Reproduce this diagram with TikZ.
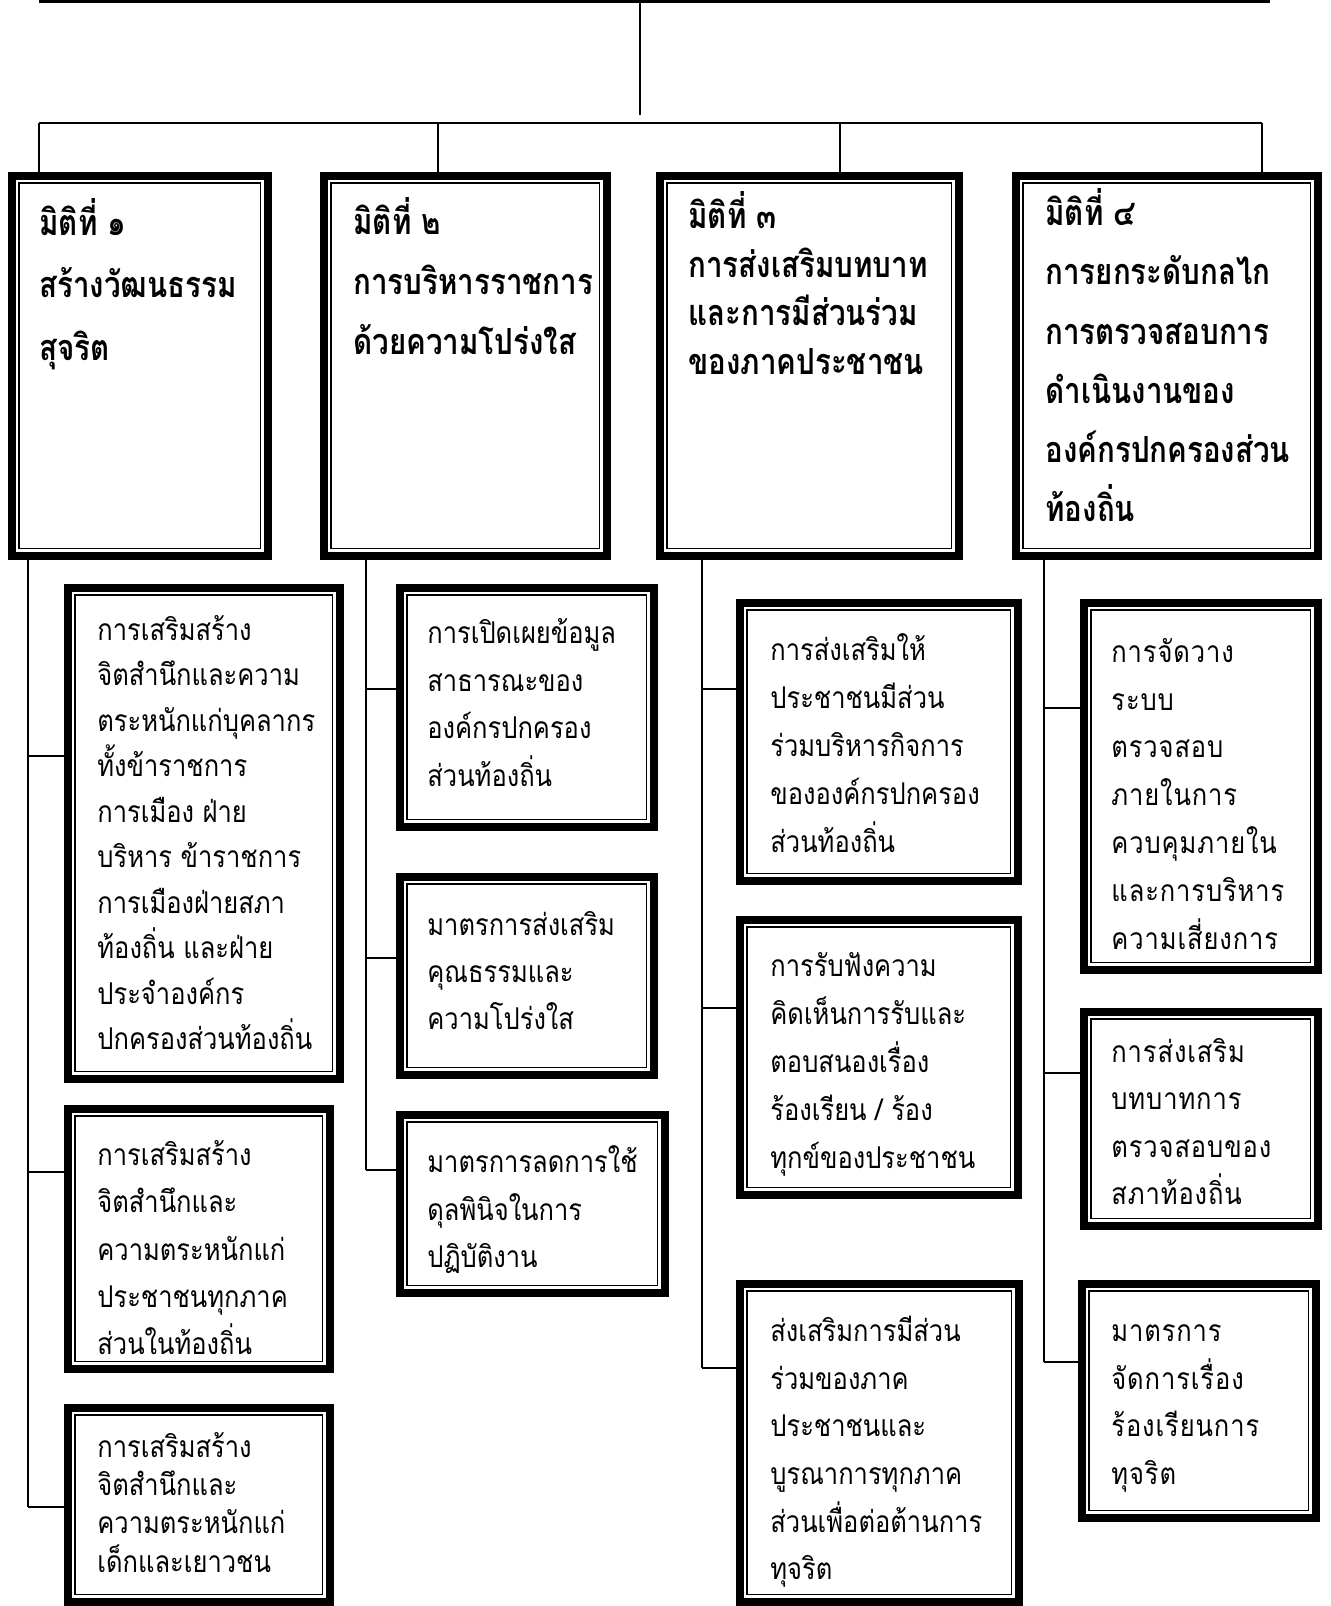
\documentclass[tikz,border=0pt]{standalone}
\usepackage{fontspec}
\newfontfamily\thaifont[Script=Thai,FakeStretch=0.85]{Loma}
\newfontfamily\thaihead[Script=Thai,FakeStretch=0.82]{Loma}
\newfontfamily\thaiwide[Script=Thai,FakeStretch=0.85,LetterSpace=3]{Loma}

\tikzset{
  dimbox/.style={draw=black, line width=4pt, inner sep=0pt, outer sep=0pt, anchor=north west},
  innerline/.style={draw=black, line width=0.75pt},
  headtext/.style={font=\thaihead\bfseries\fontsize{18}{#1}\selectfont, align=left, anchor=north west, inner sep=0pt},
  bodytext/.style={font=\thaifont\fontsize{15}{#1}\selectfont, align=left, anchor=north west, inner sep=0pt},
  widetext/.style={font=\thaiwide\fontsize{15}{#1}\selectfont, align=left, anchor=north west, inner sep=0pt},
  link/.style={draw=black, line width=1pt},
}

\begin{document}
\begin{tikzpicture}[x=0.5pt, y=-0.5pt]
\useasboundingbox (0,0) rectangle (1330,1606);

% top of the chart
\coordinate (topL) at (39,1.5);
\coordinate (topR) at (1270,1.5);
\coordinate (root) at (640,0);
\coordinate (rootend) at (640,115);
\coordinate (barL) at (39,123);
\coordinate (barR) at (1262,123);
\draw [line width=1.5pt] (topL) -- (topR);
\draw [link] (root) -- (rootend);
\draw [link] (barL) -- (barR);

% the four dimensions
\node [dimbox, minimum width=128pt, minimum height=190pt] (d1) at (11.5,175.5) {};
\node [dimbox, minimum width=141.5pt, minimum height=190pt] (d2) at (323.5,175.5) {};
\node [dimbox, minimum width=149.5pt, minimum height=190pt] (d3) at (659.5,175.5) {};
\node [dimbox, minimum width=151pt, minimum height=190pt] (d4) at (1015.5,175.5) {};

\node [headtext=31.25pt] (h1) at (39,191.25) {\strut มิติที่ ๑\\สร้างวัฒนธรรม\\สุจริต};
\node [headtext=30pt] (h2) at (353,192) {\strut มิติที่ ๒\\การบริหารราชการ\\ด้วยความโปร่งใส};
\node [headtext=24.35pt] (h3) at (688,190.9) {\strut มิติที่ ๓\\การส่งเสริมบทบาท\\และการมีส่วนร่วม\\ของภาคประชาชน};
\node [headtext=29.65pt] (h4) at (1045,183.5) {\strut มิติที่ ๔\\การยกระดับกลไก\\การตรวจสอบการ\\ดำเนินงานของ\\องค์กรปกครองส่วน\\ท้องถิ่น};

\draw [link] (barL) -- (barL |- d1.north);
\draw [link] (438,123) -- (438,175.5);
\draw [link] (840,123) -- (840,175.5);
\draw [link] (barR) -- (barR |- d4.north);

% dimension 1
\node [dimbox, minimum width=136pt, minimum height=245.5pt] (c1a) at (67.5,587.5) {};
\node [dimbox, minimum width=131pt, minimum height=130pt] (c1b) at (67.5,1108.5) {};
\node [dimbox, minimum width=131pt, minimum height=97pt] (c1c) at (67.5,1407.5) {};
\node [bodytext=22.75pt] (t1a) at (97,608.15) {\strut การเสริมสร้าง\\จิตสำนึกและความ\\ตระหนักแก่บุคลากร\\ทั้งข้าราชการ\\การเมือง ฝ่าย\\บริหาร ข้าราชการ\\การเมืองฝ่ายสภา\\ท้องถิ่น และฝ่าย\\ประจำองค์กร\\ปกครองส่วนท้องถิ่น};
\node [bodytext=23.65pt] (t1b) at (97,1131.9) {\strut การเสริมสร้าง\\จิตสำนึกและ\\ความตระหนักแก่\\ประชาชนทุกภาค\\ส่วนในท้องถิ่น};
\node [bodytext=19.1pt] (t1c) at (97,1430.3) {\strut การเสริมสร้าง\\จิตสำนึกและ\\ความตระหนักแก่\\เด็กและเยาวชน};
\coordinate (s1) at (27.6,559);
\coordinate (j1a) at (27.6,756);
\coordinate (j1b) at (27.6,1172);
\coordinate (j1c) at (27.6,1507);
\draw [link] (s1) -- (j1c);
\draw [link] (j1a) -- (j1a -| c1a.west);
\draw [link] (j1b) -- (j1b -| c1b.west);
\draw [link] (j1c) -- (j1c -| c1c.west);

% dimension 2
\node [dimbox, minimum width=127pt, minimum height=119.5pt] (c2a) at (399.5,587.5) {};
\node [dimbox, minimum width=127pt, minimum height=99pt] (c2b) at (399.5,876.5) {};
\node [dimbox, minimum width=132.5pt, minimum height=89pt] (c2c) at (399.5,1114.5) {};
\node [bodytext=23.9pt] (t2a) at (427,609.5) {\strut การเปิดเผยข้อมูล\\สาธารณะของ\\องค์กรปกครอง\\ส่วนท้องถิ่น};
\node [bodytext=23.55pt] (t2b) at (427,902) {\strut มาตรการส่งเสริม\\คุณธรรมและ\\ความโปร่งใส};
\node [bodytext=23.8pt] (t2c) at (427,1138.7) {\strut มาตรการลดการใช้\\ดุลพินิจในการ\\ปฏิบัติงาน};
\coordinate (s2) at (365.5,559);
\coordinate (j2a) at (365.5,689);
\coordinate (j2b) at (365.5,958);
\coordinate (j2c) at (365.5,1170);
\draw [link] (s2) -- (j2c);
\draw [link] (j2a) -- (j2a -| c2a.west);
\draw [link] (j2b) -- (j2b -| c2b.west);
\draw [link] (j2c) -- (j2c -| c2c.west);

% dimension 3
\node [dimbox, minimum width=139pt, minimum height=139pt] (c3a) at (739.5,602.5) {};
\node [dimbox, minimum width=139pt, minimum height=137.5pt] (c3b) at (739.5,919.5) {};
\node [dimbox, minimum width=139.5pt, minimum height=159pt] (c3c) at (739.5,1283.5) {};
\node [bodytext=24.05pt] (t3a) at (770,626.3) {\strut การส่งเสริมให้\\ประชาชนมีส่วน\\ร่วมบริหารกิจการ\\ขององค์กรปกครอง\\ส่วนท้องถิ่น};
\node [bodytext=23.95pt] (t3b) at (770,942.5) {\strut การรับฟังความ\\คิดเห็นการรับและ\\ตอบสนองเรื่อง\\ร้องเรียน / ร้อง\\ทุกข์ของประชาชน};
\node [bodytext=23.85pt] (t3c) at (770,1307.6) {\strut ส่งเสริมการมีส่วน\\ร่วมของภาค\\ประชาชนและ\\บูรณาการทุกภาค\\ส่วนเพื่อต่อต้านการ\\ทุจริต};
\coordinate (s3) at (702.4,559);
\coordinate (j3a) at (702.4,689);
\coordinate (j3b) at (702.4,1008);
\coordinate (j3c) at (702.4,1368);
\draw [link] (s3) -- (j3c);
\draw [link] (j3a) -- (j3a -| c3a.west);
\draw [link] (j3b) -- (j3b -| c3b.west);
\draw [link] (j3c) -- (j3c -| c3c.west);

% dimension 4
\node [dimbox, minimum width=117pt, minimum height=183.5pt] (c4a) at (1083.5,602.5) {};
\node [dimbox, minimum width=117pt, minimum height=107pt] (c4b) at (1083.5,1011.5) {};
\node [dimbox, minimum width=117pt, minimum height=117pt] (c4c) at (1081.5,1283.5) {};
\node [widetext=23.9pt] (t4a) at (1111,628.5) {\strut การจัดวาง\\ระบบ\\ตรวจสอบ\\ภายในการ\\ควบคุมภายใน\\และการบริหาร\\ความเสี่ยงการ};
\node [widetext=23.7pt] (t4b) at (1111,1028.8) {\strut การส่งเสริม\\บทบาทการ\\ตรวจสอบของ\\สภาท้องถิ่น};
\node [widetext=23.9pt] (t4c) at (1111,1307.5) {\strut มาตรการ\\จัดการเรื่อง\\ร้องเรียนการ\\ทุจริต};
\coordinate (s4) at (1044.4,559);
\coordinate (j4a) at (1044.4,708);
\coordinate (j4b) at (1044.4,1073);
\coordinate (j4c) at (1044.4,1362);
\draw [link] (s4) -- (j4c);
\draw [link] (j4a) -- (j4a -| c4a.west);
\draw [link] (j4b) -- (j4b -| c4b.west);
\draw [link] (j4c) -- (j4c -| c4c.west);

% thin inner frames
\foreach \n in {d1,d2,d3,d4,c1a,c1b,c1c,c2a,c2b,c2c,c3a,c3b,c3c,c4a,c4b,c4c}
  \draw [innerline] ([shift={(3.625pt,-3.625pt)}]\n.north west) rectangle ([shift={(-3.625pt,3.625pt)}]\n.south east);
\end{tikzpicture}
\end{document}
